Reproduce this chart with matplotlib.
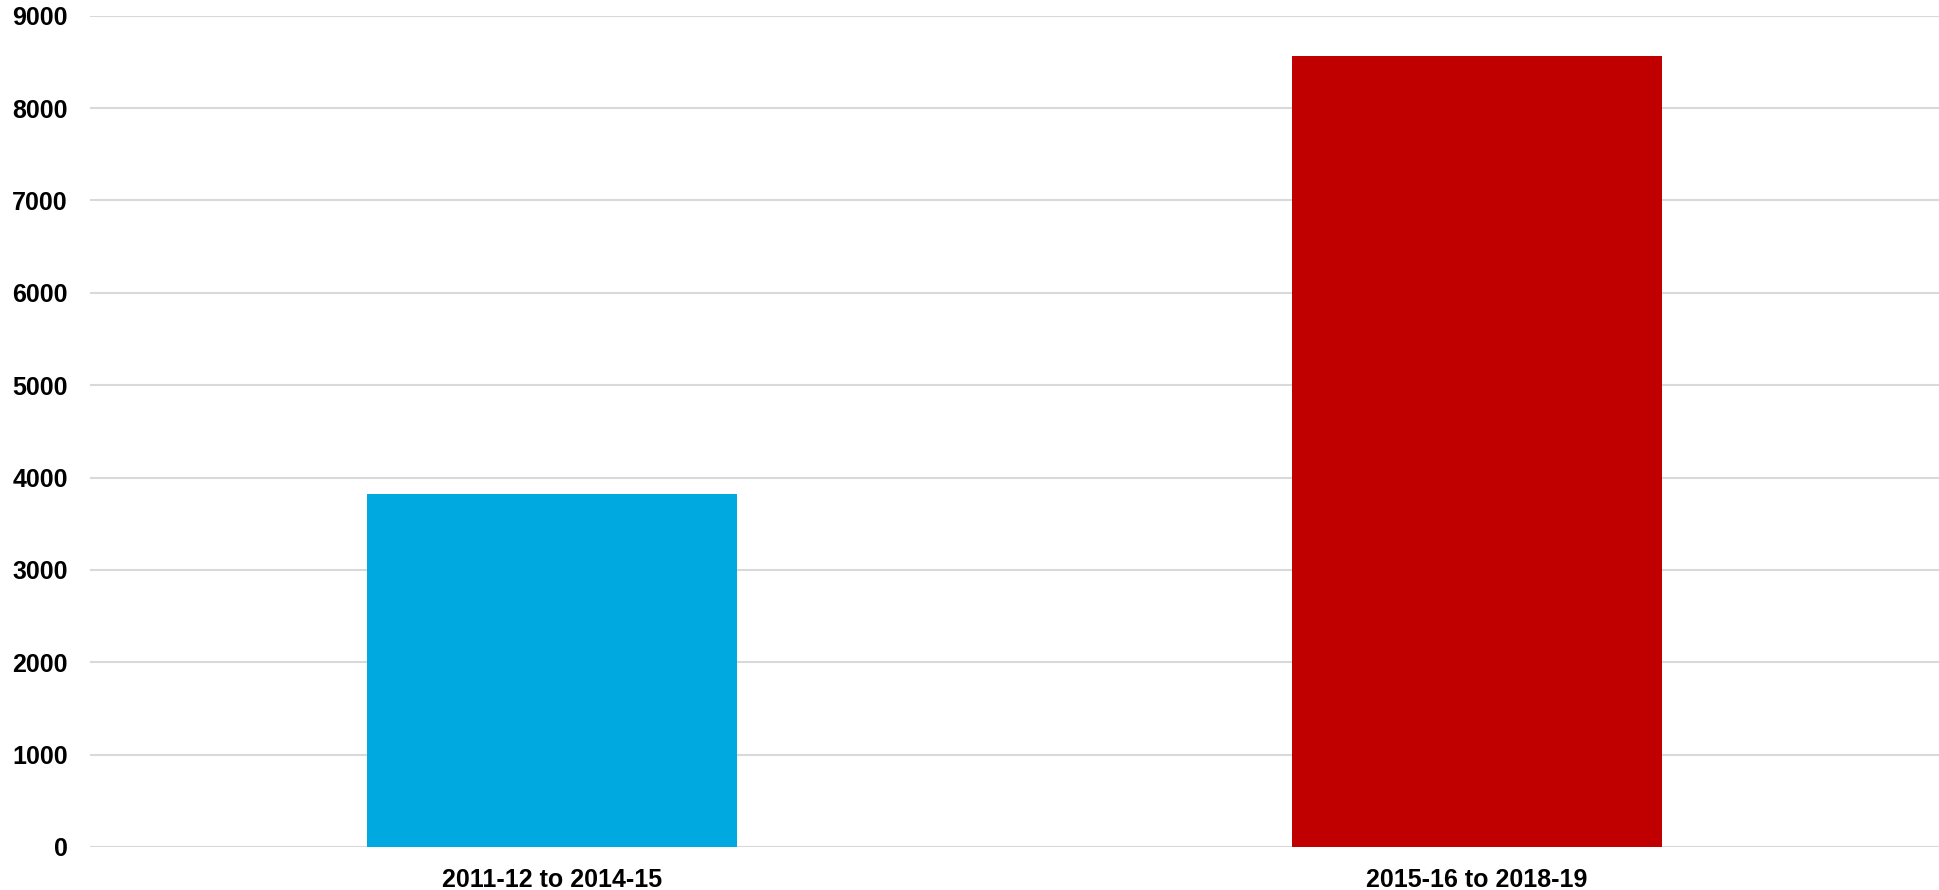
import matplotlib
matplotlib.use("Agg")
import matplotlib.pyplot as plt

categories = ["2011-12 to 2014-15", "2015-16 to 2018-19"]
values = [3820, 8560]
colors = ["#00AAE0", "#C00000"]
yticks = [0, 1000, 2000, 3000, 4000, 5000, 6000, 7000, 8000, 9000]

plt.rcParams['font.family'] = ['Liberation Sans', 'DejaVu Sans']

fig = plt.figure(figsize=(19.39, 8.90), dpi=100)
ax = fig.add_axes([90/1939, 1-847/890, 1-90/1939, (847-15.7)/890])

x = list(range(len(categories)))
ax.bar(x, values, width=0.40, color=colors, zorder=3)

ax.set_xlim(-0.5, 1.5)
ax.set_ylim(0, 9000)
ax.set_yticks(yticks)
ax.set_yticklabels([str(t) for t in yticks])
ax.set_xticks(x)
ax.set_xticklabels(categories)

for lbl in ax.get_xticklabels() + ax.get_yticklabels():
    lbl.set_fontweight('bold')
    lbl.set_fontsize(18)
    lbl.set_color('black')

ax.tick_params(axis='both', length=0)
ax.tick_params(axis='y', pad=16)
ax.tick_params(axis='x', pad=15)

ax.grid(axis='y', color='#d9d9d9', linewidth=1.5, zorder=0)
ax.set_axisbelow(True)
for s in ax.spines.values():
    s.set_visible(False)

fig.savefig("out.png", dpi=100, facecolor='white')
